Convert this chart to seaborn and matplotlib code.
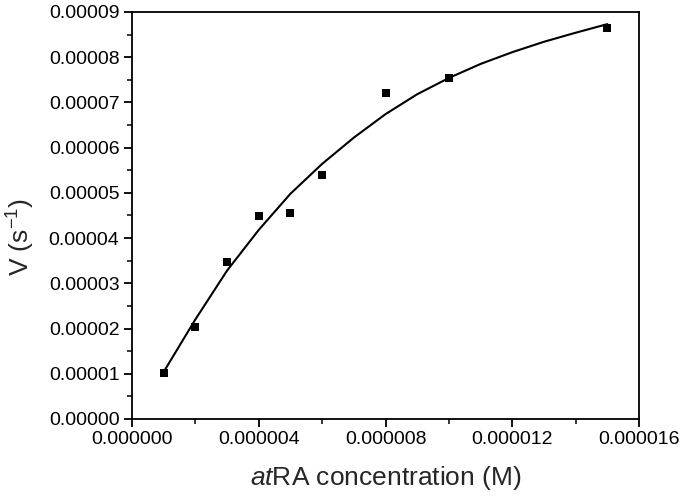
import numpy as np
import pandas as pd
import matplotlib
matplotlib.use('Agg')
import matplotlib.pyplot as plt
import seaborn as sns
from matplotlib.ticker import MultipleLocator, FormatStrFormatter

# ===================== 数据 =====================
# 实测点 (atRA 浓度 M, 速率 s^-1)
conc = [1e-6, 2e-6, 3e-6, 4e-6, 5e-6, 6e-6, 8e-6, 10e-6, 15e-6]
rate = [1.02e-5, 2.03e-5, 3.47e-5, 4.49e-5, 4.56e-5, 5.39e-5, 7.21e-5, 7.54e-5, 8.64e-5]

# 拟合曲线
fit_conc = [1e-6, 2e-6, 3e-6, 4e-6, 5e-6, 6e-6, 7e-6, 8e-6, 9e-6, 10e-6,
            11e-6, 12e-6, 13e-6, 14e-6, 15e-6]
fit_rate = [1.04e-5, 2.20e-5, 3.28e-5, 4.18e-5, 4.98e-5, 5.64e-5, 6.22e-5, 6.74e-5,
            7.18e-5, 7.54e-5, 7.85e-5, 8.11e-5, 8.34e-5, 8.54e-5, 8.73e-5]

# ===================== 绘图 =====================
sns.set_style('ticks')
plt.rcParams['font.family'] = ['Liberation Sans', 'DejaVu Sans']
plt.rcParams['mathtext.fontset'] = 'custom'
plt.rcParams['mathtext.rm'] = 'Liberation Sans'
plt.rcParams['mathtext.it'] = 'Liberation Sans:italic'

fig, ax = plt.subplots(figsize=(6.82, 4.97), dpi=100)
fig.subplots_adjust(left=0.1935, right=0.937, top=0.976, bottom=0.157)

pts = pd.DataFrame({'conc': conc, 'rate': rate})
fit = pd.DataFrame({'conc': fit_conc, 'rate': fit_rate})

sns.lineplot(data=fit, x='conc', y='rate', color='black', lw=1.5, ax=ax)
sns.scatterplot(data=pts, x='conc', y='rate', marker='s', s=30, color='black',
                edgecolor='black', linewidth=0, ax=ax, zorder=3)

ax.set_xlim(0, 16e-6)
ax.set_ylim(0, 9e-5)
ax.xaxis.set_major_locator(MultipleLocator(4e-6))
ax.xaxis.set_minor_locator(MultipleLocator(2e-6))
ax.yaxis.set_major_locator(MultipleLocator(1e-5))
ax.yaxis.set_minor_locator(MultipleLocator(0.5e-5))
ax.xaxis.set_major_formatter(FormatStrFormatter('%.6f'))
ax.yaxis.set_major_formatter(FormatStrFormatter('%.5f'))

ax.tick_params(which='major', direction='out', length=6, width=1.3, labelsize=14,
               colors='black', top=False, right=False, pad=3)
ax.tick_params(which='minor', direction='out', length=3.5, width=1.3,
               top=False, right=False)
for sp in ax.spines.values():
    sp.set_linewidth(1.3)
    sp.set_color('black')

ax.set_xlabel(r'$\mathit{at}$RA concentration (M)', fontsize=19)
ax.set_ylabel(r'V (s$^{-1}$)', fontsize=19)
ax.xaxis.set_label_coords(0.5, -0.11)
ax.yaxis.set_label_coords(-0.187, 0.448)

plt.savefig('out.png', dpi=100)
plt.close()
